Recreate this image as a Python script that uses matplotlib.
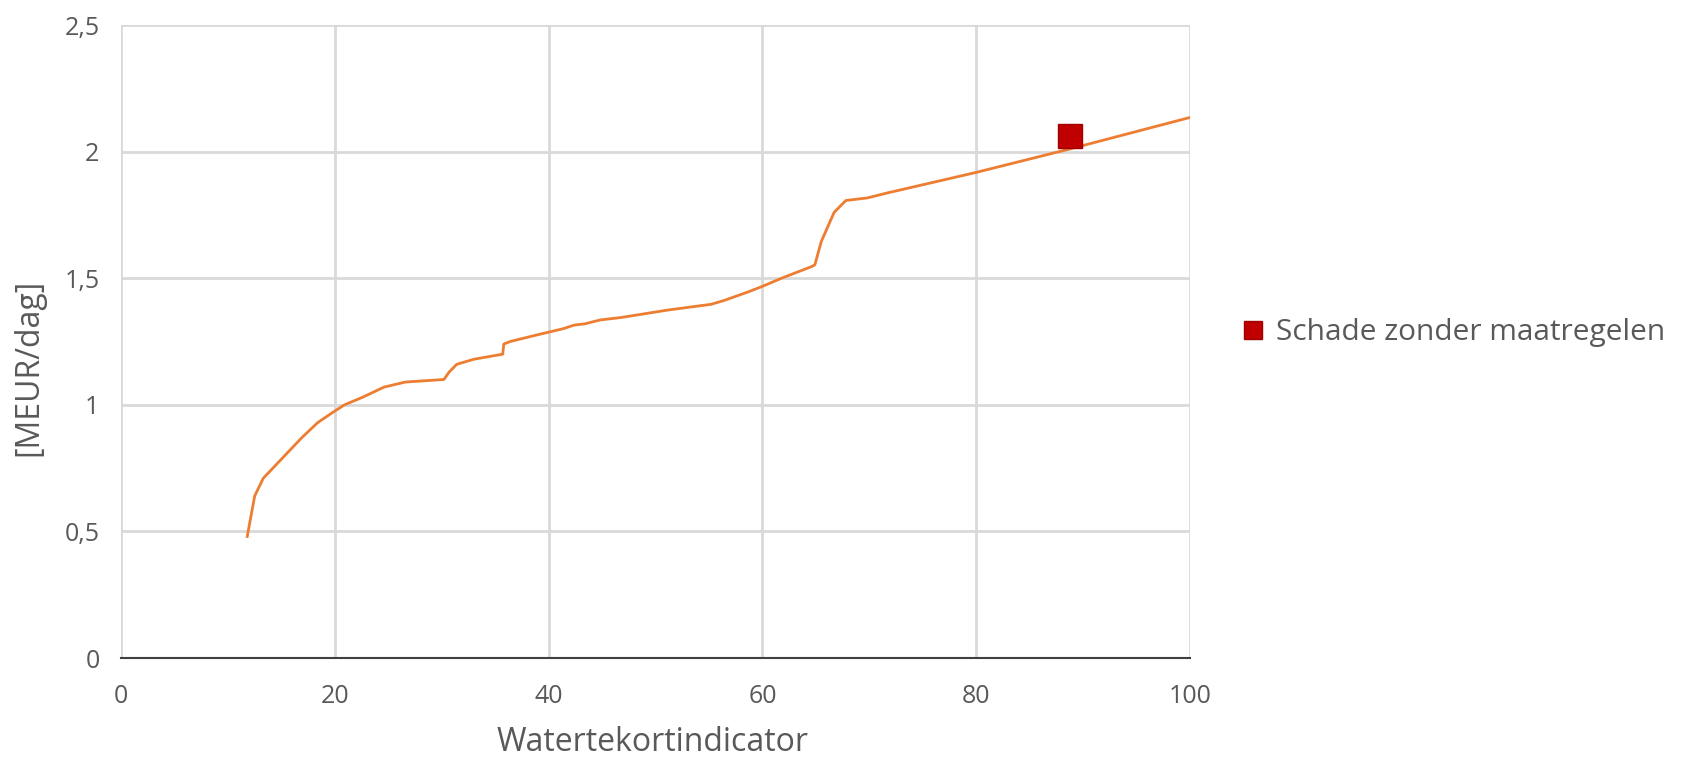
import matplotlib
matplotlib.use("Agg")
import matplotlib.pyplot as plt
from matplotlib.lines import Line2D

plt.rcParams['font.family'] = ['Open Sans', 'DejaVu Sans']

# Damage curve as a function of the water shortage indicator
curve_x = [11.8, 12.5, 13.3, 15.1, 16.9, 18.4, 19.8, 20.9, 22.6, 24.6, 26.6,
           30.2, 30.7, 31.4, 33.0, 35.7, 35.8, 36.4, 38.8, 41.3, 42.4, 43.4,
           44.8, 46.8, 51.1, 55.2, 56.4, 58.6, 60.0, 61.9, 64.6, 64.9, 65.5,
           66.7, 67.8, 69.8, 71.6, 80.0, 88.8, 100.0]
curve_y = [0.48, 0.64, 0.71, 0.79, 0.87, 0.93, 0.97, 1.00, 1.03, 1.07, 1.09,
           1.10, 1.13, 1.16, 1.18, 1.20, 1.24, 1.25, 1.275, 1.30, 1.315, 1.32,
           1.335, 1.345, 1.374, 1.397, 1.412, 1.445, 1.468, 1.502, 1.546, 1.553, 1.645,
           1.76, 1.807, 1.817, 1.836, 1.918, 2.011, 2.135]

# Current situation (no measures)
point_x = [88.8]
point_y = [2.06]
point_label = "Schade zonder maatregelen"

x_ticks = [0, 20, 40, 60, 80, 100]
y_ticks = [0, 0.5, 1, 1.5, 2, 2.5]
y_tick_labels = ["0", "0,5", "1", "1,5", "2", "2,5"]

text_color = "#595959"
grid_color = "#D9D9D9"

fig = plt.figure(figsize=(16.84, 7.58), dpi=100)
ax = fig.add_axes([0.0719, 0.1319, 0.6348, 0.8351])

ax.plot(curve_x, curve_y, color="#ED7D31", linewidth=2.0, zorder=3,
        solid_joinstyle="round")
ax.plot(point_x, point_y, linestyle="none", marker="s", markersize=17,
        markerfacecolor="#C00000", markeredgecolor="#A00000",
        markeredgewidth=1.0, zorder=4)

ax.set_xlim(0, 100)
ax.set_ylim(0, 2.5)
ax.set_xticks(x_ticks)
ax.set_yticks(y_ticks)
ax.set_yticklabels(y_tick_labels)

ax.grid(True, color=grid_color, linewidth=2.0, zorder=0)
ax.set_axisbelow(True)
for side in ("top", "right", "left"):
    ax.spines[side].set_visible(False)
ax.spines["bottom"].set_color("#404040")
ax.spines["bottom"].set_linewidth(1.5)
ax.spines["bottom"].set_zorder(2)

ax.tick_params(axis="both", length=0, labelsize=18, colors=text_color)
ax.tick_params(axis="x", pad=19)
ax.tick_params(axis="y", pad=15.5)

ax.set_xlabel("Watertekortindicator", fontsize=23, color=text_color)
ax.set_ylabel("[MEUR/dag]", fontsize=23, color=text_color)
ax.xaxis.set_label_coords(0.497, -0.107)
ax.yaxis.set_label_coords(-0.071, 0.459)

handle = Line2D([], [], linestyle="none", marker="s", markersize=13,
                markerfacecolor="#C00000", markeredgecolor="#A00000")
fig.legend([handle], [point_label], loc="center left",
           bbox_to_anchor=(0.723, 0.561), frameon=False, fontsize=21.5,
           handlelength=0.6, handletextpad=0.45, labelcolor=text_color)

fig.savefig("out.png", dpi=100, facecolor="white")
